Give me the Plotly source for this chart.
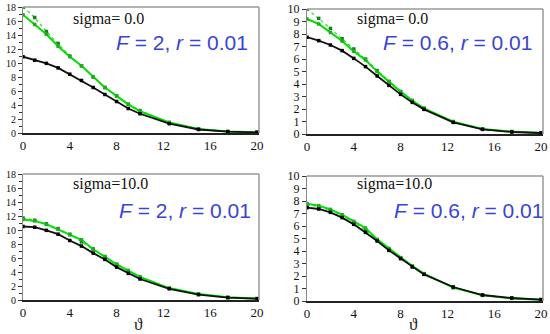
import plotly.graph_objects as go

W, H = 550, 334
theta = [0, 1, 2, 3, 4, 5, 6, 7, 8, 9, 10, 12.5, 15, 17.5, 20]

# Top-left: sigma=0.0, F=2
tl_black = [10.9, 10.4, 9.95, 9.3, 8.4, 7.5, 6.5, 5.5, 4.5, 3.5, 2.75, 1.33, 0.5, 0.2, 0.1]
tl_green = [16.9, 15.5, 14.1, 12.4, 10.9, 9.6, 8.0, 6.5, 5.3, 4.1, 3.1, 1.5, 0.57, 0.2, 0.1]
tl_dot = [18.0, 16.5, 14.5, 12.8, 11.0, 9.6, 8.0, 6.5, 5.3, 4.1, 3.2, 1.5, 0.57, 0.2, 0.1]
# Top-right: sigma=0.0, F=0.6
tr_black = [7.75, 7.47, 7.12, 6.67, 6.05, 5.39, 4.64, 3.89, 3.17, 2.53, 1.97, 0.93, 0.37, 0.16, 0.08]
tr_green = [9.2, 8.8, 8.13, 7.44, 6.61, 5.92, 4.99, 4.19, 3.39, 2.67, 2.05, 0.99, 0.4, 0.19, 0.08]
tr_dot = [10.0, 9.25, 8.45, 7.62, 6.8, 6.0, 5.07, 4.2, 3.4, 2.68, 2.06, 0.99, 0.4, 0.19, 0.08]
# Bottom-left: sigma=10.0, F=2
bl_black = [10.5, 10.4, 9.95, 9.4, 8.5, 7.7, 6.7, 5.8, 4.7, 3.8, 3.0, 1.6, 0.76, 0.33, 0.19]
bl_green = [11.5, 11.3, 10.8, 10.1, 9.3, 8.6, 7.25, 6.2, 5.1, 4.2, 3.3, 1.7, 0.85, 0.38, 0.19]
bl_dot = [11.7, 11.4, 10.9, 10.2, 9.4, 8.3, 7.3, 6.2, 5.1, 4.2, 3.3, 1.7, 0.85, 0.38, 0.19]
# Bottom-right: sigma=10.0, F=0.6
br_black = [7.47, 7.36, 7.09, 6.67, 6.13, 5.49, 4.8, 4.05, 3.39, 2.72, 2.13, 1.12, 0.48, 0.24, 0.11]
br_green = [7.79, 7.63, 7.33, 6.91, 6.37, 5.84, 4.93, 4.21, 3.47, 2.8, 2.19, 1.07, 0.45, 0.21, 0.11]
br_dot = [7.7, 7.55, 7.25, 6.85, 6.3, 5.65, 4.85, 4.15, 3.45, 2.78, 2.18, 1.08, 0.46, 0.22, 0.11]

sigma_labels = ["sigma= 0.0", "sigma= 0.0", "sigma=10.0", "sigma=10.0"]
param_labels = ["<i>F</i> = 2, <i>r</i> = 0.01", "<i>F</i> = 0.6, <i>r</i> = 0.01",
                "<i>F</i> = 2, <i>r</i> = 0.01", "<i>F</i> = 0.6, <i>r</i> = 0.01"]
x_label = "ϑ"
x_ticks = [0, 4, 8, 12, 16, 20]
left_yticks = [0, 2, 4, 6, 8, 10, 12, 14, 16, 18]
right_yticks = [0, 1, 2, 3, 4, 5, 6, 7, 8, 9, 10]

panels = [
    # (black, green, dotted, ymax, x0px, x1px, ytop px, ybot px)
    (tl_black, tl_green, tl_dot, 18, 23, 259, 7, 133),
    (tr_black, tr_green, tr_dot, 10, 307, 543, 9, 134),
    (bl_black, bl_green, bl_dot, 18, 23, 259, 174, 300),
    (br_black, br_green, br_dot, 10, 307, 543, 176, 301),
]

fig = go.Figure()
serif = "Liberation Serif, Times New Roman, serif"
for i, (bk, gr, dt, ymax, x0, x1, yt, yb) in enumerate(panels):
    n = "" if i == 0 else str(i + 1)
    xa, ya = "x" + n, "y" + n
    fig.add_trace(go.Scatter(x=theta, y=dt, mode="lines+markers", xaxis=xa, yaxis=ya,
                             line=dict(color="#44cc44", width=1.2, dash="dot"),
                             marker=dict(color="#118811", size=3.5, symbol="square")))
    fig.add_trace(go.Scatter(x=theta, y=gr, mode="lines+markers", xaxis=xa, yaxis=ya,
                             line=dict(color="#00e000", width=2),
                             marker=dict(color="#22aa22", size=3.5, symbol="square")))
    fig.add_trace(go.Scatter(x=theta, y=bk, mode="lines+markers", xaxis=xa, yaxis=ya,
                             line=dict(color="#111111", width=1.8),
                             marker=dict(color="#000000", size=3.5, symbol="square")))
    xrng = [0, 20 * (x1 - x0) / 234]
    yt_vals = left_yticks if ymax == 18 else right_yticks
    fig.layout["xaxis" + n] = dict(
        domain=[x0 / W, x1 / W], range=xrng, anchor=ya, automargin=False,
        tickvals=x_ticks, ticks="", showgrid=False, zeroline=False,
        showline=True, linecolor="#222222", linewidth=1.5,
        tickfont=dict(family=serif, size=13, color="#111"),
    )
    fig.layout["yaxis" + n] = dict(
        domain=[1 - yb / H, 1 - yt / H], range=[0, ymax], anchor=xa, automargin=False,
        tickvals=yt_vals, ticks="outside", ticklen=4, tickcolor="#333",
        minor=dict(dtick=1, ticks="outside", ticklen=3, tickcolor="#333") if ymax == 18 else None,
        showgrid=False, zeroline=False,
        showline=True, linecolor="#888888", linewidth=1,
        tickfont=dict(family=serif, size=(10 if ymax == 18 else 12), color="#111"),
    )
    fig.add_shape(type="line", xref=xa + " domain", yref=ya + " domain", x0=0, x1=1, y0=1, y1=1,
                  line=dict(color="#999999", width=1.5))
    fig.add_shape(type="line", xref=xa + " domain", yref=ya + " domain", x0=1, x1=1, y0=0, y1=1,
                  line=dict(color="#999999", width=1.5))

sig_pos = [(108, 19), (392.5, 19), (110.5, 184), (394.5, 184)]
par_pos = [(181.5, 43), (457.5, 43), (185, 210), (468.5, 210)]
for i in range(4):
    fig.add_annotation(xref="paper", yref="paper", x=sig_pos[i][0] / W, y=1 - sig_pos[i][1] / H,
                       text=sigma_labels[i], showarrow=False, xanchor="center", yanchor="middle",
                       font=dict(family=serif, size=16, color="#111"))
    fig.add_annotation(xref="paper", yref="paper", x=par_pos[i][0] / W, y=1 - par_pos[i][1] / H,
                       text=param_labels[i], showarrow=False, xanchor="center", yanchor="middle",
                       font=dict(family="Liberation Sans, Arial, sans-serif", size=21, color="#3a44d4"))
for xc in (138, 413):
    fig.add_annotation(xref="paper", yref="paper", x=xc / W, y=1 - 324 / H,
                       text=x_label, showarrow=False, xanchor="center", yanchor="middle",
                       font=dict(family=serif, size=17, color="#222"))

fig.update_layout(width=W, height=H, margin=dict(l=0, r=0, t=0, b=0),
                  paper_bgcolor="white", plot_bgcolor="white", showlegend=False)
fig.write_html("out.html", config={"displayModeBar": False},
               post_script="document.body.style.margin='0';document.body.style.padding='0';"
                           "document.documentElement.style.overflow='hidden';")
